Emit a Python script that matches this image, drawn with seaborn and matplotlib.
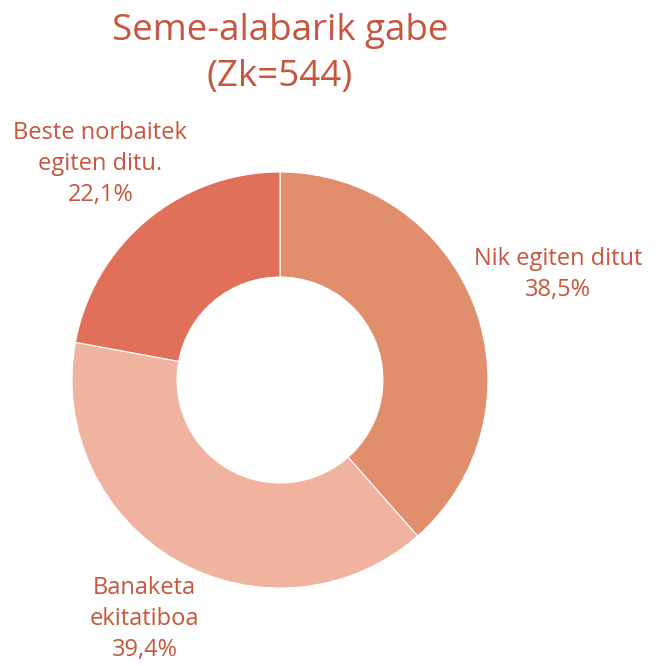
import matplotlib
matplotlib.use("Agg")
import matplotlib.pyplot as plt
import seaborn as sns
import numpy as np

# data
labels = ["Nik egiten ditut", "Banaketa\nekitatiboa", "Beste norbaitek\negiten ditu."]
values = [38.5, 39.4, 22.1]
colors = ["#E08E6B", "#F0B3A0", "#E0705A"]
title = "Seme-alabarik gabe\n(Zk=544)"

sns.set_theme(style="white")
plt.rcParams["font.family"] = ["Open Sans", "DejaVu Sans"]
text_color = "#C8553D"

fig = plt.figure(figsize=(6.63, 6.66), dpi=100)
ax = fig.add_axes([72 / 663, 78 / 666, 416 / 663, 416 / 666])

wedges, _ = ax.pie(values, colors=colors, startangle=90, counterclock=False,
                   radius=1, wedgeprops=dict(width=0.505, edgecolor="white", linewidth=0.8))
ax.set_xlim(-1, 1)
ax.set_ylim(-1, 1)
ax.set_aspect("equal")
ax.axis("off")

# labels placed outside each wedge along its middle angle
dists = [1.43, 1.32, 1.35]
for w, lab, v, d in zip(wedges, labels, values, dists):
    ang = np.deg2rad((w.theta1 + w.theta2) / 2)
    pct = f"{v:.1f}".replace(".", ",")
    ax.text(d * np.cos(ang), d * np.sin(ang), f"{lab}\n{pct}%", ha="center", va="center",
            fontsize=17, color=text_color, linespacing=1.4, clip_on=False)

fig.text(280 / 663, 1 - 54 / 666, title, ha="center", va="center",
         fontsize=26.5, color=text_color, linespacing=1.37)

fig.savefig("out.png", dpi=100)
